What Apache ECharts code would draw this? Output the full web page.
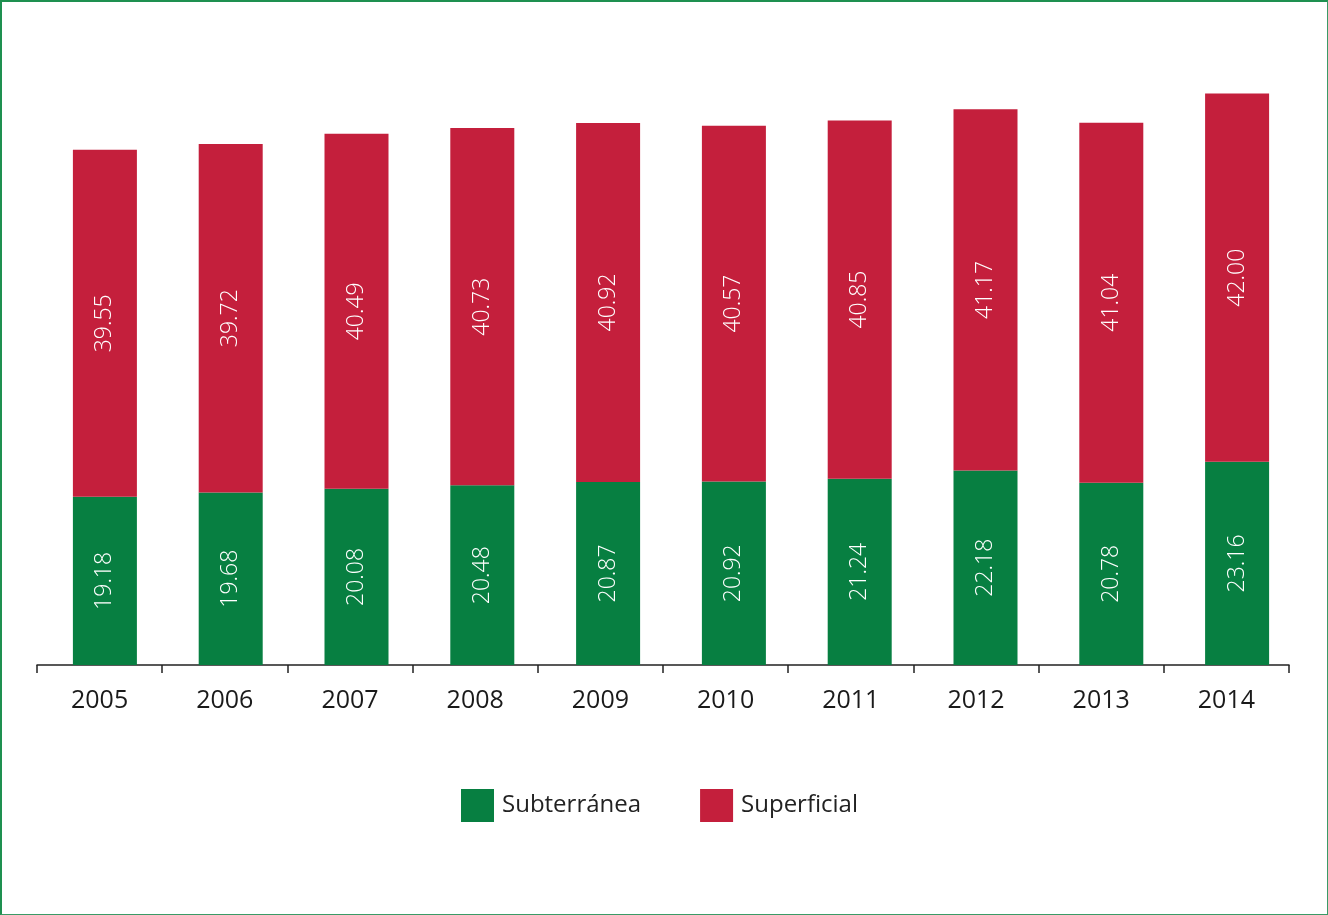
<!DOCTYPE html>
<html>
<head>
<meta charset="utf-8">
<script src="https://cdn.jsdelivr.net/npm/echarts@6/dist/echarts.min.js"></script>
<style>
html,body{margin:0;padding:0;background:#fff;}
#frame{position:absolute;left:0;top:0;width:1328px;height:915px;box-sizing:border-box;border-top:2px solid #1e9050;border-left:2px solid #1e9050;border-right:1px solid #3a9a66;border-bottom:1px solid #3a9a66;}
#chart{position:absolute;left:0;top:0;width:1328px;height:915px;}
</style>
</head>
<body>
<div id="chart"></div>
<div id="frame"></div>
<script>
const years = ['2005','2006','2007','2008','2009','2010','2011','2012','2013','2014'];
const subterranea = [19.18,19.68,20.08,20.48,20.87,20.92,21.24,22.18,20.78,23.16];
const superficial = [39.55,39.72,40.49,40.73,40.92,40.57,40.85,41.17,41.04,42.00];
const seriesNames = ['Subterránea','Superficial'];
const colors = ['#077f41','#c41f3c'];

const chart = echarts.init(document.getElementById('chart'), null, {renderer:'canvas'});
const labelCfg = {
  show:true, position:'inside', rotate:90, color:'#fff',
  fontFamily:'Open Sans', fontSize:23, fontWeight:300,
  formatter: p => p.value.toFixed(2)
};
chart.setOption({
  animation:false,
  textStyle:{fontFamily:'Open Sans'},
  grid:[
    {left:42,right:28,top:51,bottom:250,containLabel:false},
    {left:37,right:39,top:51,bottom:250,containLabel:false}
  ],
  legend:{
    data:seriesNames, top:789, left:461, padding:0, itemWidth:33, itemHeight:33, itemGap:59,
    icon:'rect',
    textStyle:{fontFamily:'Open Sans',fontSize:24,color:'#222',padding:[0,0,0,3]}
  },
  xAxis:[
    {gridIndex:0,type:'category',data:years,show:false},
    {gridIndex:1,type:'category',data:years,boundaryGap:true,
     axisLine:{lineStyle:{color:'#222',width:1.5}},
     axisTick:{show:true,length:8,inside:false,lineStyle:{color:'#222',width:1.5}},
     axisLabel:{fontSize:25,color:'#1a1a1a',margin:23,fontFamily:'Open Sans'}}
  ],
  yAxis:[
    {gridIndex:0,type:'value',min:0,max:70,show:false,splitLine:{show:false}},
    {gridIndex:1,type:'value',min:0,max:70,show:false,splitLine:{show:false}}
  ],
  series:[
    {name:seriesNames[0],type:'bar',stack:'t',data:subterranea,barWidth:64,itemStyle:{color:colors[0]},label:labelCfg},
    {name:seriesNames[1],type:'bar',stack:'t',data:superficial,barWidth:64,itemStyle:{color:colors[1]},label:labelCfg}
  ]
});
</script>
</body>
</html>
